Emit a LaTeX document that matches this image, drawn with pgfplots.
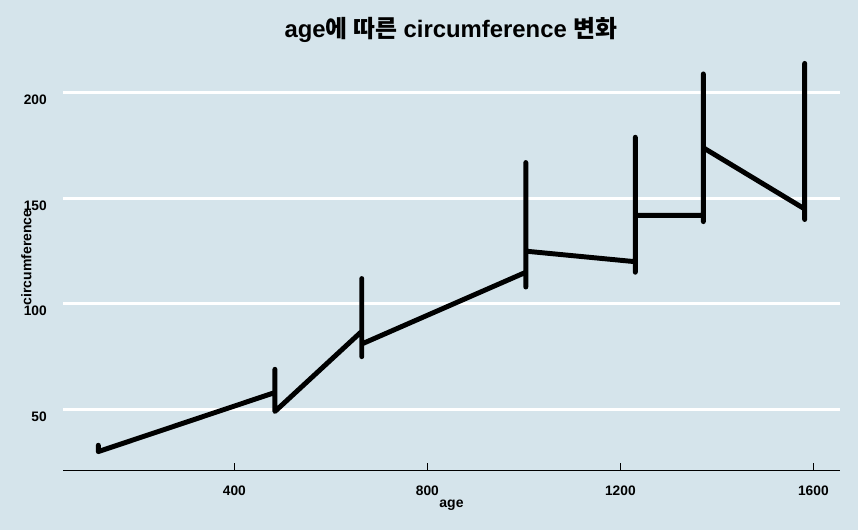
\documentclass[border=0pt]{standalone}
\usepackage{fontspec}
\setmainfont{Liberation Sans}
\newfontfamily\kr{Noto Sans CJK KR}
\usepackage{pgfplots}
\pgfplotsset{compat=1.18}
\definecolor{bg}{HTML}{D5E4EB}
\begin{document}
\begin{tikzpicture}
\fill[bg] (0,0) rectangle (643.5pt,397.5pt);
\begin{axis}[
  at={(47.25pt,44.25pt)}, anchor=south west,
  scale only axis, width=582.75pt, height=320.25pt,
  xmin=44.8, xmax=1655.2, ymin=20.8, ymax=223.2,
  axis x line*=bottom, axis y line*=left,
  separate axis lines,
  x axis line style={black, line width=0.75pt, -},
  y axis line style={draw=none},
  xtick={400,800,1200,1600}, ytick={50,100,150,200},
  ymajorgrids, grid style={white, line width=2.2pt},
  major tick length=6pt, tick align=inside,
  x tick style={black, line width=0.75pt},
  y tick style={draw=none},
  /pgf/number format/assume math mode=true,
  /pgf/number format/1000 sep={},
  ticklabel style={font=\bfseries\fontsize{10.3}{12}\selectfont},
  xticklabel style={anchor=center, inner sep=0pt, yshift=-14.8pt},
  yticklabel style={anchor=east, inner sep=0pt, xshift=-12pt, yshift=-5.3pt},
  xlabel={age}, ylabel={circumference},
  label style={font=\bfseries\fontsize{10.5}{12}\selectfont},
  xlabel style={at={(axis description cs:0.5,-0.079)}, anchor=center},
  ylabel style={at={(axis description cs:-0.047,0.5)}, anchor=center},
]
\addplot[black, line width=3.7pt, line join=round] coordinates {
(118,30) (118,33) (118,30) (118,32) (118,30)
(484,58) (484,69) (484,51) (484,62) (484,49)
(664,87) (664,111) (664,75) (664,112) (664,81)
(1004,115) (1004,156) (1004,108) (1004,167) (1004,125)
(1231,120) (1231,172) (1231,115) (1231,179) (1231,142)
(1372,142) (1372,203) (1372,139) (1372,209) (1372,174)
(1582,145) (1582,203) (1582,140) (1582,214) (1582,177)
};
\end{axis}
\node[anchor=base, inner sep=0pt, font=\bfseries\fontsize{17.9}{20}\selectfont] at (338.25pt,369pt) {age{\kr 에 따른} circumference {\kr 변화}};
\pgfresetboundingbox
\path (0,0) rectangle (643.5pt,397.5pt);
\end{tikzpicture}
\end{document}
